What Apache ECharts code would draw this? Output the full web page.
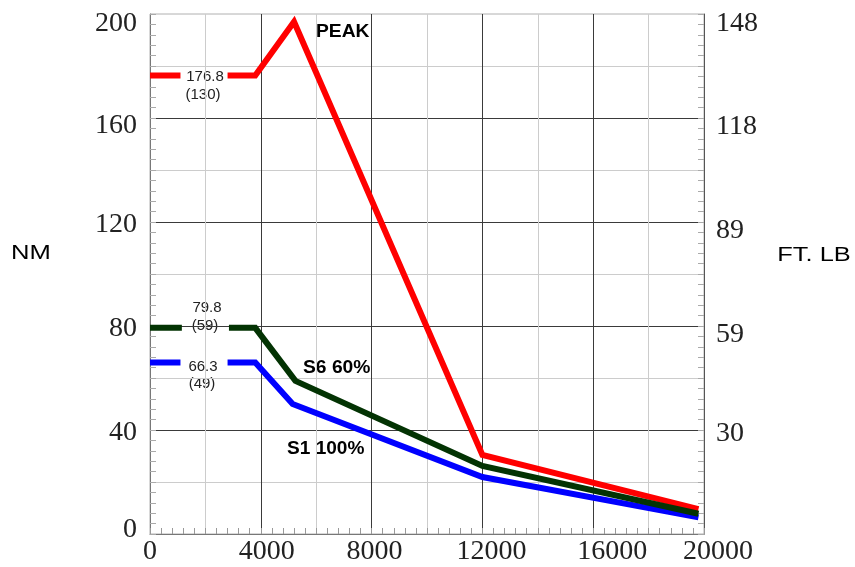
<!DOCTYPE html>
<html><head><meta charset="utf-8">
<script src="https://cdn.jsdelivr.net/npm/echarts@6/dist/echarts.min.js"></script>
<style>html,body{margin:0;padding:0;background:#fff}#c{width:855px;height:567px}</style>
</head><body><div id="c"></div>
<script>
// speed (rpm) and torque (N·m); '-' marks the gap left for the value label
const peakSpeed  = [0, 1100, 1950, 2800, 3800, 5200, 12000, 19800];
const peakTorque = [176.3, 176.3, '-', 176.3, 176.3, 197, 30.4, 9.6];
const s6Speed    = [0, 1150, 1950, 2850, 3800, 5250, 12000, 19800];
const s6Torque   = [79.3, 79.3, '-', 79.3, 79.3, 58.9, 26.2, 7.8];
const s1Speed    = [0, 1100, 1950, 2800, 3800, 5150, 12000, 19800];
const s1Torque   = [66.0, 66.0, '-', 66.0, 66.0, 50, 21.9, 6.4];
const rpmTicks   = [0, 4000, 8000, 12000, 16000, 20000];
const nmTicks    = [0, 40, 80, 120, 160, 200];
const ftlbTicks  = ['', '30', '59', '89', '118', '148'];

const zip = (xs, ys) => xs.map((x, i) => [x, ys[i]]);
const serif = 'Liberation Serif';
const sans = 'Liberation Sans, Arial, sans-serif';
const lab = (pad) => ({fontFamily: serif, fontSize: 28, color: '#222', padding: pad});

const chart = echarts.init(document.getElementById('c'), null, {renderer: 'canvas'});
const option = {
  animation: false,
  backgroundColor: '#fff',
  grid: {left: 150, right: 151, top: 14, bottom: 33, show: true, borderColor: '#b0b0b0', borderWidth: 1, backgroundColor: 'transparent'},
  xAxis: {
    type: 'value', min: 0, max: 20000, interval: 2000,
    axisLine: {show: true, lineStyle: {color: '#777', width: 1}},
    axisTick: {show: true, inside: true, length: 6, lineStyle: {color: '#999'}},
    minorTick: {show: true, splitNumber: 5, length: 6, lineStyle: {color: '#999'}},
    splitLine: {show: true, showMinLine: false, showMaxLine: false, lineStyle: {color: ['#cccccc', '#3a3a3a'], width: 1}},
    axisLabel: {fontFamily: serif, fontSize: 28, color: '#222', margin: 4,
      formatter: v => {
        if (!rpmTicks.includes(v)) return '';
        const k = rpmTicks.indexOf(v);
        return '{x' + k + '|' + v + '}';
      },
      rich: {
        x0: lab([0, 0, 0, 0]), x1: lab([0, 0, 0, 12]), x2: lab([0, 0, 0, 6]),
        x3: lab([0, 0, 0, 18]), x4: lab([0, 0, 0, 38]), x5: lab([0, 0, 0, 28])
      }
    }
  },
  yAxis: [{
    type: 'value', min: 0, max: 200, interval: 20, position: 'left',
    axisLine: {show: true, lineStyle: {color: '#777', width: 1}},
    axisTick: {show: true, inside: true, length: 6, lineStyle: {color: '#aaa'}},
    minorTick: {show: true, splitNumber: 5, length: 6, lineStyle: {color: '#aaa'}},
    splitLine: {show: true, showMinLine: false, showMaxLine: false, lineStyle: {color: ['#cccccc', '#3a3a3a'], width: 1}},
    axisLabel: {fontFamily: serif, fontSize: 28, color: '#222', margin: 13,
      formatter: v => {
        if (!nmTicks.includes(v)) return '';
        if (v === 200) return '{d|' + v + '}';
        if (v === 160) return '{m|' + v + '}';
        if (v === 0) return '{u|' + v + '}';
        return '{n|' + v + '}';
      },
      rich: {
        d: lab([20, 0, 0, 0]),
        m: lab([16, 0, 0, 0]),
        n: lab([6, 0, 0, 0]),
        u: lab([0, 0, 8, 0])
      }
    }
  }, {
    type: 'value', min: 0, max: 200, interval: 20, position: 'right',
    axisLine: {show: true, lineStyle: {color: '#555', width: 1}},
    axisTick: {show: true, inside: true, length: 6, lineStyle: {color: '#aaa'}},
    minorTick: {show: true, splitNumber: 5, length: 6, lineStyle: {color: '#aaa'}},
    splitLine: {show: false},
    axisLabel: {fontFamily: serif, fontSize: 28, color: '#222', margin: 12,
      formatter: v => {
        const i = nmTicks.indexOf(v);
        if (i <= 0) return '';
        return (i === 5 ? '{t|' : i === 1 ? '{b|' : '{r|') + ftlbTicks[i] + '}';
      },
      rich: {r: lab([18, 0, 0, 0]), t: lab([20, 0, 0, 0]), b: lab([8, 0, 0, 0])}
    }
  }],
  series: [
    {name: 'PEAK', type: 'line', data: zip(peakSpeed, peakTorque), symbol: 'none', connectNulls: false,
      lineStyle: {color: '#ff0000', width: 6, join: 'miter'}, z: 3},
    {name: 'S1 100%', type: 'line', data: zip(s1Speed, s1Torque), symbol: 'none', connectNulls: false,
      lineStyle: {color: '#0000ff', width: 6, join: 'miter'}, z: 4},
    {name: 'S6 60%', type: 'line', data: zip(s6Speed, s6Torque), symbol: 'none', connectNulls: false,
      lineStyle: {color: '#033303', width: 6, join: 'miter'}, z: 5}
  ],
  graphic: [
    {type: 'text', x: 31, y: 253, scaleX: 1.28, style: {text: 'NM', font: '20px ' + sans, fill: '#000', align: 'center', verticalAlign: 'middle'}},
    {type: 'text', x: 814, y: 255, scaleX: 1.27, style: {text: 'FT. LB', font: '20px ' + sans, fill: '#000', align: 'center', verticalAlign: 'middle'}},
    {type: 'text', x: 316, y: 32, scaleX: 1.07, style: {text: 'PEAK', font: 'bold 18px ' + sans, fill: '#000', align: 'left', verticalAlign: 'middle'}},
    {type: 'text', x: 303, y: 368, scaleX: 1.07, style: {text: 'S6 60%', font: 'bold 18px ' + sans, fill: '#000', align: 'left', verticalAlign: 'middle'}},
    {type: 'text', x: 287, y: 449, scaleX: 1.06, style: {text: 'S1 100%', font: 'bold 18px ' + sans, fill: '#000', align: 'left', verticalAlign: 'middle'}},
    {type: 'text', x: 205, y: 77, style: {text: '176.8', font: '15px ' + sans, fill: '#222', align: 'center', verticalAlign: 'middle'}},
    {type: 'text', x: 203, y: 95, style: {text: '(130)', font: '15px ' + sans, fill: '#222', align: 'center', verticalAlign: 'middle'}},
    {type: 'text', x: 207, y: 308, style: {text: '79.8', font: '15px ' + sans, fill: '#222', align: 'center', verticalAlign: 'middle'}},
    {type: 'text', x: 205, y: 326, style: {text: '(59)', font: '15px ' + sans, fill: '#222', align: 'center', verticalAlign: 'middle'}},
    {type: 'text', x: 203, y: 367, style: {text: '66.3', font: '15px ' + sans, fill: '#222', align: 'center', verticalAlign: 'middle'}},
    {type: 'text', x: 202, y: 384, style: {text: '(49)', font: '15px ' + sans, fill: '#222', align: 'center', verticalAlign: 'middle'}}
  ]
};
chart.setOption(option);
</script>
</body></html>
